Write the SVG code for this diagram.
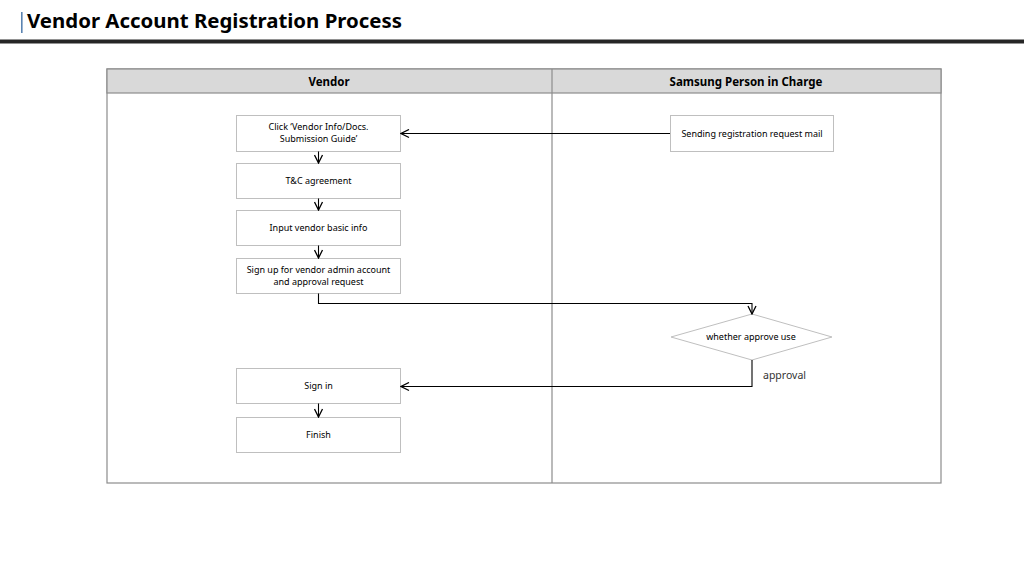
<svg xmlns="http://www.w3.org/2000/svg" width="1024" height="576" viewBox="0 0 1024 576">
<defs>
<marker id="arr" viewBox="0 0 10 10" refX="9" refY="5" markerWidth="10" markerHeight="10" markerUnits="userSpaceOnUse" orient="auto">
<path d="M1,1 L9,5 L1,9" fill="none" stroke="#000" stroke-width="1.3"/>
</marker>
<style>
.box{fill:#fff;stroke:#bfbfbf;stroke-width:1}
.t{font-family:"Noto Sans","Open Sans",sans-serif;font-size:9px;fill:#000;text-anchor:middle}
.h{font-family:"Noto Sans","Open Sans",sans-serif;font-size:11.5px;font-weight:bold;fill:#000;text-anchor:middle}
.c{fill:none;stroke:#000;stroke-width:1.1;marker-end:url(#arr)}
</style>
</defs>
<rect width="1024" height="576" fill="#fff"/>
<g id="title">
<rect x="21" y="12" width="1.6" height="21" fill="#5b84b1"/>
<text x="27" y="28" font-family="Noto Sans,sans-serif" font-size="20.4" font-weight="bold" fill="#000">Vendor Account Registration Process</text>
<rect x="0" y="39.5" width="1024" height="4" fill="#262626"/>
</g>
<g id="table">
<rect x="107" y="69" width="834" height="414" fill="#fff" stroke="#8c8c8c" stroke-width="1.2"/>
<rect x="107" y="69" width="834" height="24" fill="#d9d9d9" stroke="#8c8c8c" stroke-width="1.2"/>
<line x1="552" y1="69" x2="552" y2="483" stroke="#8c8c8c" stroke-width="1.2"/>
<text class="h" x="329" y="85.5">Vendor</text>
<text class="h" x="746" y="85.5">Samsung Person in Charge</text>
</g>
<g id="n1"><rect class="box" x="236.5" y="115.5" width="164" height="36"/><text class="t" x="318.5" y="130">Click ‘Vendor Info/Docs.</text><text class="t" x="318.5" y="142">Submission Guide’</text></g>
<g id="n2"><rect class="box" x="236.5" y="163.5" width="164" height="35"/><text class="t" x="318.5" y="184">T&amp;C agreement</text></g>
<g id="n3"><rect class="box" x="236.5" y="210.5" width="164" height="35"/><text class="t" x="318.5" y="231">Input vendor basic info</text></g>
<g id="n4"><rect class="box" x="236.5" y="258.5" width="164" height="35"/><text class="t" x="318.5" y="273">Sign up for vendor admin account</text><text class="t" x="318.5" y="285">and approval request</text></g>
<g id="n5"><rect class="box" x="236.5" y="368.5" width="164" height="35"/><text class="t" x="318.5" y="389">Sign in</text></g>
<g id="n6"><rect class="box" x="236.5" y="417.5" width="164" height="35"/><text class="t" x="318.5" y="438">Finish</text></g>
<g id="n7"><rect class="box" x="670.5" y="115.5" width="163" height="36"/><text class="t" x="752" y="136.5">Sending registration request mail</text></g>
<g id="n8"><polygon points="752,314 832,337 752,360 671,337" fill="#fff" stroke="#bfbfbf" stroke-width="1"/><text class="t" x="751" y="340">whether approve use</text></g>
<g id="connectors">
<path class="c" d="M670,133.5 L401,133.5"/>
<path class="c" d="M318.5,151.5 L318.5,163"/>
<path class="c" d="M318.5,198.5 L318.5,210"/>
<path class="c" d="M318.5,245.5 L318.5,258"/>
<path class="c" d="M318.5,293.5 L318.5,303.5 L752,303.5 L752,314"/>
<path class="c" d="M752,360 L752,386.5 L401,386.5"/>
<path class="c" d="M318.5,403.5 L318.5,417"/>
<text x="763" y="379" font-family="Noto Sans,sans-serif" font-size="10.5" fill="#333">approval</text>
</g>
</svg>
